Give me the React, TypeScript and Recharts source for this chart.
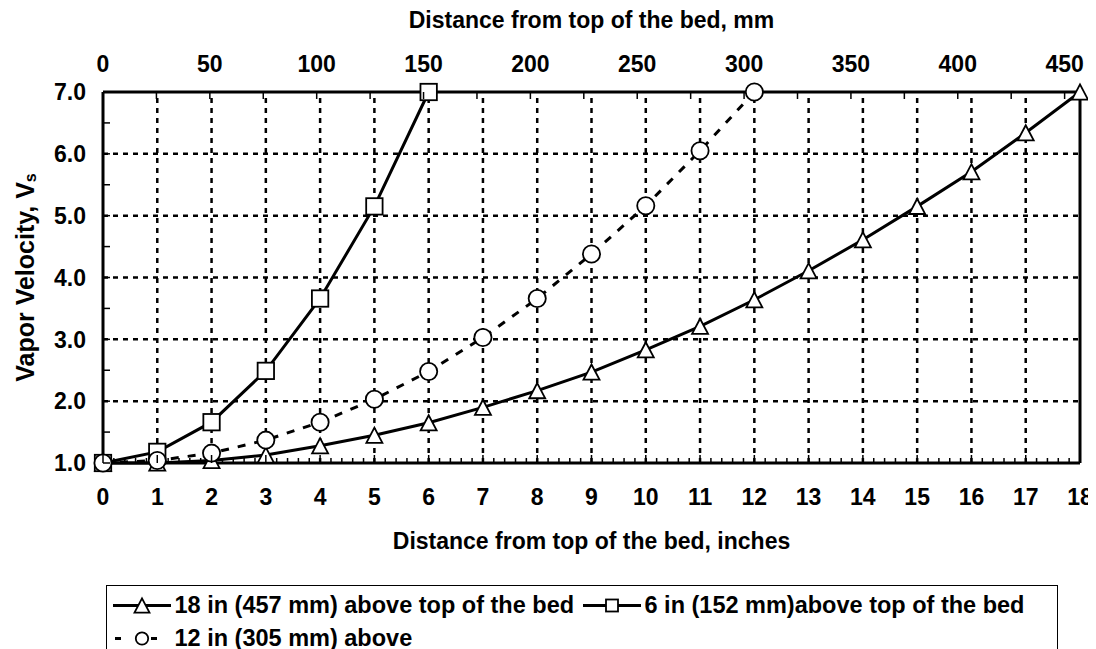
import React from 'react';
import { LineChart, Line, XAxis, YAxis, Legend, ReferenceLine } from 'recharts';

// ---------- data ----------
const inches = [0, 1, 2, 3, 4, 5, 6, 7, 8, 9, 10, 11, 12, 13, 14, 15, 16, 17, 18];
const vel18in = [1.0, 1.0, 1.04, 1.13, 1.28, 1.45, 1.65, 1.9, 2.17, 2.47, 2.83, 3.21, 3.64, 4.11, 4.61, 5.15, 5.71, 6.34, 7.0];
const vel6in = [1.0, 1.18, 1.66, 2.49, 3.66, 5.15, 7.0];
const vel12in = [1.0, 1.04, 1.16, 1.37, 1.66, 2.03, 2.48, 3.03, 3.66, 4.38, 5.16, 6.05, 7.0];
const seriesKeys = ['s18', 's6', 's12'];
const seriesNames = [
  '18 in (457 mm) above top of the bed',
  '6 in (152 mm)above top of the bed',
  '12 in (305 mm) above',
];
const inchTicks = [0, 1, 2, 3, 4, 5, 6, 7, 8, 9, 10, 11, 12, 13, 14, 15, 16, 17, 18];
const mmTicks = [0, 25, 50, 75, 100, 125, 150, 175, 200, 225, 250, 275, 300, 325, 350, 375, 400, 425, 450];
const mmLabelStep = 50;
const velTicks = [1, 2, 3, 4, 5, 6, 7];
const MM_PER_INCH = 25.4;
const xTitleBottom = 'Distance from top of the bed, inches';
const xTitleTop = 'Distance from top of the bed, mm';
const yTitle = 'Vapor Velocity, V';
const yTitleSub = 's';

// derived helpers
const xMin = inchTicks[0];
const xMax = inchTicks[inchTicks.length - 1];
const yMin = velTicks[0];
const yMax = velTicks[velTicks.length - 1];
const inchMinorTicks = Array.from({ length: (xMax - xMin) * 5 + 1 }, (_, i) => Math.round(i * 2) / 10);
const velMinorTicks = Array.from({ length: (yMax - yMin) * 2 + 1 }, (_, i) => yMin + i / 2);
const rows = (xs: number[], ys: number[], key: string) => ys.map((v, i) => ({ x: xs[i], [key]: v }));
const data18 = rows(inches, vel18in, 's18');
const data6 = rows(inches, vel6in, 's6');
const data12 = rows(inches, vel12in, 's12');
const mmRows = mmTicks.map((m) => ({ mm: m }));
const gridX = inchTicks.slice(1, -1);
const gridY = velTicks.slice(1, -1);

const FONT = '"Liberation Sans", Arial, Helvetica, sans-serif';
const TXT = { fontFamily: FONT, fontWeight: 700, fontSize: 23, fill: '#000' } as const;

// ---------- markers ----------
function TriangleMark({ cx, cy, s = 8 }: any) {
  if (cx == null || cy == null) return null;
  const h = s * 0.95;
  return <path d={`M${cx},${cy - h} L${cx + s},${cy + h} L${cx - s},${cy + h} Z`} fill="#fff" stroke="#000" strokeWidth={1.8} />;
}
function SquareMark({ cx, cy, s = 8.2 }: any) {
  if (cx == null || cy == null) return null;
  return <rect x={cx - s} y={cy - s} width={2 * s} height={2 * s} fill="#fff" stroke="#000" strokeWidth={1.8} />;
}
function CircleMark({ cx, cy, r = 8.6 }: any) {
  if (cx == null || cy == null) return null;
  return <circle cx={cx} cy={cy} r={r} fill="#fff" stroke="#000" strokeWidth={1.8} />;
}
const markerFor: Record<string, any> = { s18: TriangleMark, s6: SquareMark, s12: CircleMark };
const dashFor: Record<string, string | undefined> = { s18: undefined, s6: undefined, s12: '8 9' };

// ---------- ticks ----------
function BottomTick(props: any) {
  const { x, y, payload } = props;
  const v = payload.value;
  const major = Math.abs(v - Math.round(v)) < 1e-6;
  return (
    <g>
      <line x1={x} x2={x} y1={y} y2={y - (major ? 8 : 5)} stroke="#000" strokeWidth={1.5} />
      {major && (
        <text x={x} y={y + 42} textAnchor="middle" {...TXT}>
          {Math.round(v)}
        </text>
      )}
    </g>
  );
}
function TopTick(props: any) {
  const { x, y, payload } = props;
  const v = payload.value;
  return (
    <g>
      <line x1={x} x2={x} y1={y} y2={y + 7} stroke="#000" strokeWidth={1.5} />
      {v % mmLabelStep === 0 && (
        <text x={x} y={y - 20} textAnchor="middle" {...TXT}>
          {v}
        </text>
      )}
    </g>
  );
}
function LeftTick(props: any) {
  const { x, y, payload } = props;
  const v = payload.value;
  const major = Math.abs(v - Math.round(v)) < 1e-6;
  return (
    <g>
      <line x1={x} x2={x + 7} y1={y} y2={y} stroke="#000" strokeWidth={1.5} />
      {major && (
        <text x={x - 17} y={y + 8.2} textAnchor="end" {...TXT}>
          {v.toFixed(1)}
        </text>
      )}
    </g>
  );
}

// ---------- titles ----------
const TopTitle = (p: any) => {
  const vb = p.viewBox;
  return (
    <text x={vb.x + vb.width / 2} y={vb.y + 20} textAnchor="middle" {...TXT}>
      {xTitleTop}
    </text>
  );
};
const BottomTitle = (p: any) => {
  const vb = p.viewBox;
  return (
    <text x={vb.x + vb.width / 2} y={vb.y + 86} textAnchor="middle" {...TXT}>
      {xTitleBottom}
    </text>
  );
};
const LeftTitle = (p: any) => {
  const vb = p.viewBox;
  const cx = vb.x + 17;
  const cy = vb.y + vb.height / 2;
  return (
    <text x={cx} y={cy} transform={`rotate(-90, ${cx}, ${cy})`} textAnchor="middle" dominantBaseline="central" {...TXT} fontSize={25}>
      {yTitle}
      <tspan dy={5} fontSize={16}>
        {yTitleSub}
      </tspan>
    </text>
  );
};

// ---------- legend ----------
function LegendBox(props: any) {
  const payload = [...(props.payload || [])]
    .filter((e: any) => seriesKeys.includes(e.dataKey))
    .sort((a: any, b: any) => seriesKeys.indexOf(a.dataKey) - seriesKeys.indexOf(b.dataKey));
  return (
    <div
      style={{
        boxSizing: 'border-box',
        height: 64,
        border: '1.5px solid #000',
        borderBottom: 'none',
        paddingTop: 3,
        paddingLeft: 5.5,
        display: 'grid',
        gridTemplateColumns: '470px 470px',
        gridAutoRows: '33px',
        fontFamily: FONT,
        background: '#fff',
      }}
    >
      {payload.map((e: any) => {
        const key = e.dataKey as string;
        const Mark = markerFor[key];
        const dash = dashFor[key];
        return (
          <div key={key} style={{ display: 'flex', alignItems: 'center', height: 33 }}>
            <svg width={58} height={33} style={{ flex: 'none' }}>
              {dash ? (
                <line x1={2} x2={44} y1={16.5} y2={16.5} stroke="#000" strokeWidth={3} strokeDasharray="6 30" />
              ) : (
                <line x1={0} x2={58} y1={16.5} y2={16.5} stroke="#000" strokeWidth={3} />
              )}
              <Mark cx={29} cy={16.5} s={key === 's18' ? 7.5 : 6} r={6.2} />
            </svg>
            <span style={{ marginLeft: 4, fontSize: 23.5, fontWeight: 700, whiteSpace: 'nowrap', lineHeight: '33px', color: '#000' }}>
              {e.value}
            </span>
          </div>
        );
      })}
    </div>
  );
}

const dotRenderer = (key: string) => (p: any) => {
  const Mark = markerFor[key];
  return <Mark key={`${key}-${p.index}`} cx={p.cx} cy={p.cy} />;
};

const GRID_STYLE = { stroke: '#000', strokeWidth: 2.5, strokeDasharray: '5 5' };

export default function App() {
  return (
    <div style={{ width: 1088, height: 641, background: '#fff' }}>
      <LineChart width={1088} height={641} data={mmRows} margin={{ top: 0, right: 0, bottom: 0, left: 0 }} style={{ overflow: 'visible' }}>
        <XAxis
          xAxisId="in"
          type="number"
          dataKey="x"
          orientation="bottom"
          domain={[xMin, xMax]}
          ticks={inchMinorTicks}
          interval={0}
          height={122}
          tickSize={0}
          tickMargin={0}
          tickLine={false}
          tick={<BottomTick />}
          axisLine={{ stroke: '#000', strokeWidth: 3 }}
          label={BottomTitle}
        />
        <XAxis
          xAxisId="mm"
          type="number"
          dataKey="mm"
          orientation="top"
          domain={[0, xMax * MM_PER_INCH]}
          allowDataOverflow
          ticks={mmTicks}
          interval={0}
          height={84}
          tickSize={0}
          tickMargin={0}
          tickLine={false}
          tick={<TopTick />}
          axisLine={{ stroke: '#000', strokeWidth: 3 }}
          label={TopTitle}
        />
        <YAxis
          yAxisId="left"
          type="number"
          orientation="left"
          domain={[yMin, yMax]}
          ticks={velMinorTicks}
          interval={0}
          width={95}
          tickSize={0}
          tickMargin={0}
          tickLine={false}
          tick={<LeftTick />}
          axisLine={{ stroke: '#000', strokeWidth: 3 }}
          label={LeftTitle}
        />
        <YAxis
          yAxisId="right"
          type="number"
          orientation="right"
          domain={[yMin, yMax]}
          allowDataOverflow
          width={16}
          tick={false}
          tickLine={false}
          axisLine={{ stroke: '#000', strokeWidth: 3 }}
        />
        {gridX.map((t) => (
          <ReferenceLine key={`gx${t}`} xAxisId="in" yAxisId="left" x={t} {...GRID_STYLE} />
        ))}
        {gridY.map((t) => (
          <ReferenceLine key={`gy${t}`} xAxisId="in" yAxisId="left" y={t} {...GRID_STYLE} />
        ))}
        <Legend verticalAlign="bottom" content={<LegendBox />} wrapperStyle={{ left: 98, bottom: 0, width: 952, height: 64 }} />
        <Line
          xAxisId="mm"
          yAxisId="right"
          data={mmRows}
          dataKey="none"
          stroke="none"
          dot={false}
          activeDot={false}
          legendType="none"
          isAnimationActive={false}
        />
        <Line
          xAxisId="in"
          yAxisId="left"
          data={data18}
          dataKey="s18"
          name={seriesNames[0]}
          type="linear"
          stroke="#000"
          strokeWidth={3}
          dot={dotRenderer('s18')}
          activeDot={false}
          isAnimationActive={false}
        />
        <Line
          xAxisId="in"
          yAxisId="left"
          data={data6}
          dataKey="s6"
          name={seriesNames[1]}
          type="linear"
          stroke="#000"
          strokeWidth={3}
          dot={dotRenderer('s6')}
          activeDot={false}
          isAnimationActive={false}
        />
        <Line
          xAxisId="in"
          yAxisId="left"
          data={data12}
          dataKey="s12"
          name={seriesNames[2]}
          type="linear"
          stroke="#000"
          strokeWidth={3}
          strokeDasharray={dashFor.s12}
          dot={dotRenderer('s12')}
          activeDot={false}
          isAnimationActive={false}
        />
      </LineChart>
    </div>
  );
}
